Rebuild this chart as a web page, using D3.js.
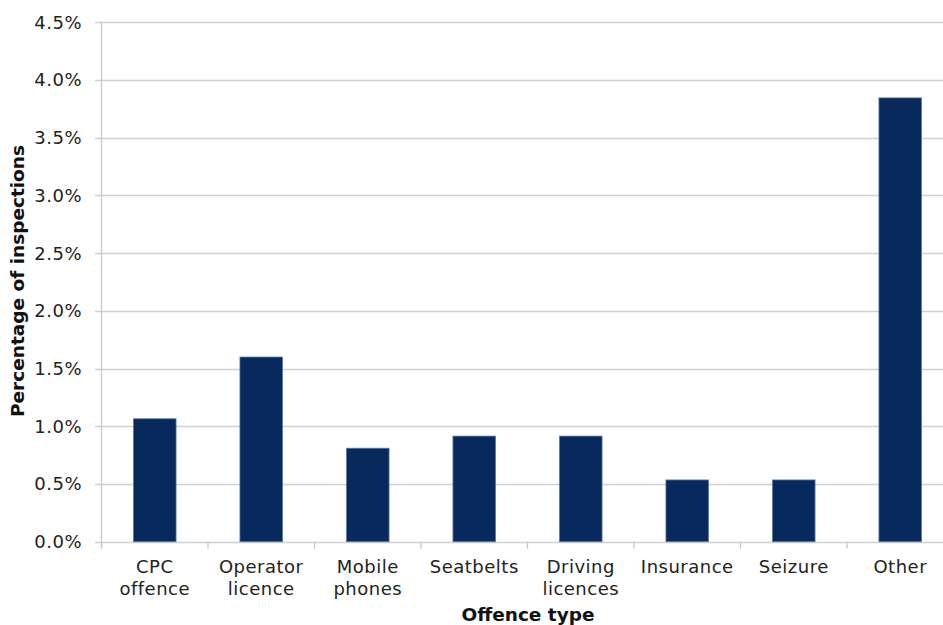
<!DOCTYPE html>
<html><head><meta charset="utf-8">
<script src="https://cdn.jsdelivr.net/npm/d3@7"></script>
<style>body{margin:0;background:#fff}svg{display:block}text{font-family:"DejaVu Sans",Verdana,sans-serif}</style>
</head><body><svg id="c" width="943" height="625"></svg>
<script>
const categories = [["CPC","offence"],["Operator","licence"],["Mobile","phones"],["Seatbelts"],["Driving","licences"],["Insurance"],["Seizure"],["Other"]];
const values = [1.065, 1.60, 0.81, 0.915, 0.915, 0.535, 0.535, 3.845];
const yTicks = [0,0.5,1,1.5,2,2.5,3,3.5,4,4.5];

(function(){
const svg = d3.select("#c");
const pLeft = 101.5, pRight = 953.5, pTop = 22.3, pBottom = 541.7;
const x = d3.scaleBand().domain(d3.range(categories.length)).range([pLeft,pRight]).paddingInner(0.6).paddingOuter(0.3);
const xb = d3.scaleBand().domain(d3.range(categories.length)).range([pLeft,pRight]);
const y = d3.scaleLinear().domain([0,4.5]).range([pBottom,pTop]);

svg.append("g").selectAll("line").data(yTicks).join("line")
  .attr("x1",95).attr("x2",943).attr("y1",d=>Math.round(y(d))+0.5).attr("y2",d=>Math.round(y(d))+0.5)
  .attr("stroke","#d0d0d0").attr("stroke-width",1.3);
svg.append("line").attr("x1",pLeft).attr("x2",pLeft).attr("y1",pTop).attr("y2",pBottom+6).attr("stroke","#c8c8c8").attr("stroke-width",1.3);
svg.append("g").selectAll("line").data(d3.range(categories.length)).join("line")
  .attr("x1",d=>xb(d)).attr("x2",d=>xb(d)).attr("y1",pBottom).attr("y2",pBottom+7)
  .attr("stroke","#c8c8c8").attr("stroke-width",1.3);
svg.append("g").selectAll("text").data(yTicks).join("text")
  .attr("x",82).attr("y",d=>y(d)).attr("dy","0.36em").attr("text-anchor","end")
  .attr("font-size",18).attr("letter-spacing",0.5).attr("fill","#222").text(d=>d.toFixed(1)+"%");
svg.append("g").selectAll("rect").data(values).join("rect")
  .attr("x",(d,i)=>x(i)).attr("width",x.bandwidth()).attr("y",d=>y(d)).attr("height",d=>pBottom-y(d))
  .attr("fill","#08295b").attr("stroke","#5a7aa5").attr("stroke-width",0.8);
const xl = svg.append("g").selectAll("text").data(categories).join("text")
  .attr("x",(d,i)=>xb(i)+xb.bandwidth()/2).attr("y",573).attr("text-anchor","middle")
  .attr("font-size",18).attr("letter-spacing",0.5).attr("fill","#222");
xl.selectAll("tspan").data(d=>d).join("tspan").attr("x",function(){return this.parentNode.getAttribute("x");})
  .attr("dy",(d,i)=>i?22:0).text(d=>d);
svg.append("text").attr("x",528).attr("y",621).attr("text-anchor","middle")
  .attr("font-size",18.5).attr("font-weight","bold").attr("fill","#111").text("Offence type");
svg.append("text").attr("transform",`translate(24,${(pTop+pBottom)/2-1}) rotate(-90)`).attr("text-anchor","middle")
  .attr("font-size",18.5).attr("font-weight","bold").attr("fill","#111").text("Percentage of inspections");
})();
</script></body></html>
